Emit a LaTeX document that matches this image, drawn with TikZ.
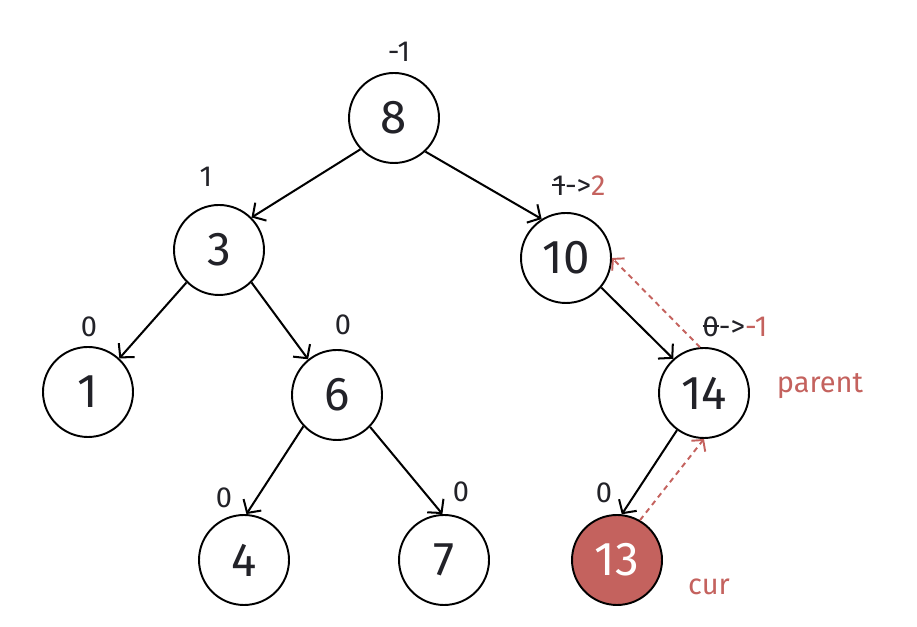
\documentclass[tikz,border=0pt]{standalone}
\usepackage{fontspec}
\setmainfont{Fira Sans}
\usepackage{tikz}
\usetikzlibrary{arrows.meta,positioning}
\definecolor{curred}{RGB}{196,98,94}
\definecolor{ink}{RGB}{34,34,40}
\newcommand{\strikeout}[1]{\setbox0\hbox{#1}\rlap{\rule[0.33em]{\wd0}{0.07em}}\box0}

\begin{document}
\begin{tikzpicture}[every node/.style={font=\fontsize{16.5}{19}\selectfont, text=ink},
    treenode/.style={draw=black, circle, line width=1.1pt, minimum size=1.8cm, inner sep=0pt, font=\fontsize{27}{30}\selectfont},
    edge/.style={-{Straight Barb[length=5.5pt,width=12pt]}, line width=1.15pt, black},
    backedge/.style={-{Straight Barb[length=4.5pt,width=10pt]}, line width=1.1pt, curred, dash pattern=on 3pt off 2.5pt}]
        \useasboundingbox (0,0) rectangle (18.34,12.54);

        % Tree nodes
        \node[treenode] (n8) at (7.88,10.18) {8};
        \node[treenode] (n3) at (4.38,7.54) {3};
        \node[treenode] (n10) at (11.32,7.38) {10};
        \node[treenode] (n1) at (1.76,4.70) {1};
        \node[treenode] (n6) at (6.74,4.64) {6};
        \node[treenode] (n14) at (14.08,4.68) {14};
        \node[treenode] (n4) at (4.88,1.34) {4};
        \node[treenode] (n7) at (8.88,1.34) {7};
        \node[treenode, fill=curred, text=white] (n13) at (12.34,1.34) {13};

        % Balance factors
        \node (b8) at (7.98,11.50) {-1};
        \node (b3) at (4.12,9.00) {1};
        \node (b10) at (11.58,8.82) {\strikeout{1}->\textcolor{curred}{2}};
        \node (b1) at (1.78,6.00) {0};
        \node (b6) at (6.86,6.04) {0};
        \node (b14) at (14.70,6.00) {\strikeout{0}->\textcolor{curred}{-1}};
        \node (b4) at (4.48,2.58) {0};
        \node (b7) at (9.22,2.70) {0};
        \node (b13) at (12.08,2.68) {0};

        % Pointers
        \node[text=curred] (parent) at (16.40,4.82) {parent};
        \node[text=curred] (cur) at (14.18,0.80) {cur};

        % Edges
        \draw[edge] (n8.223) -- (n3.45);
        \draw[edge] (n8.-47) -- (n10.122);
        \draw[edge] (n3.225) -- (n1.47);
        \draw[edge] (n3.-45) -- (n6.129);
        \draw[edge] (n10.-40) -- (n14.132);
        \draw[edge] (n6.223) -- (n4.87);
        \draw[edge] (n6.-44) -- (n7.92);
        \draw[edge] (n14.234) -- (n13.84);

        % Walking back up
        \draw[backedge] (n13.60) -- (n14.south);
        \draw[backedge] (n14.95) -- (n10.east);
    \end{tikzpicture}
\end{document}
